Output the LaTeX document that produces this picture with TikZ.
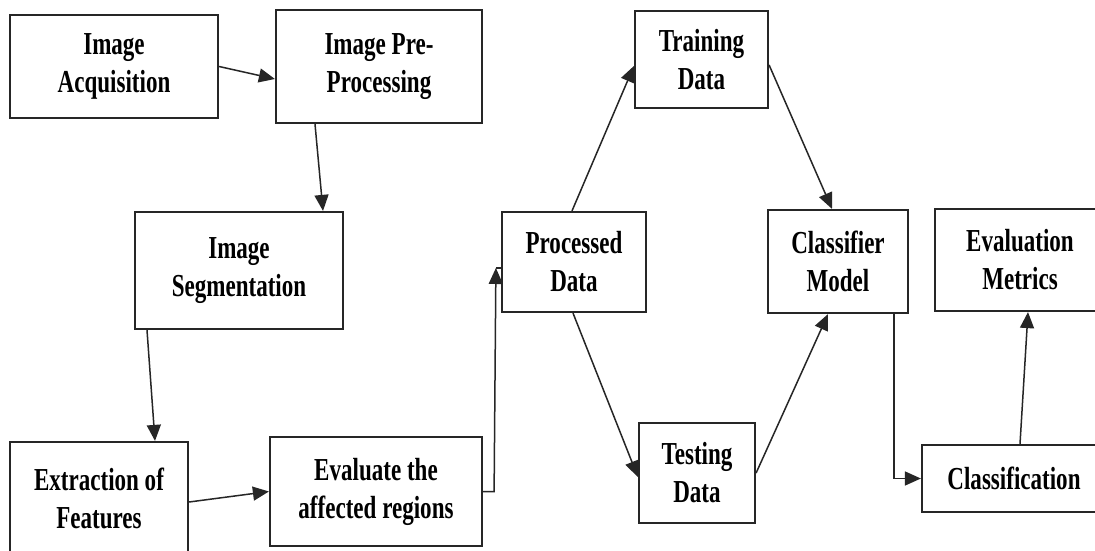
\documentclass[tikz,border=0pt]{standalone}
\usepackage{fontspec}
\setmainfont[FakeStretch=0.72]{Liberation Serif}
\usepackage{tikz}
\usetikzlibrary{arrows.meta,calc}

\tikzset{
  blk/.style={draw=black!85, line width=2.2pt, fill=white, align=center, inner sep=0pt,
    font=\fontsize{32}{38}\selectfont\bfseries},
  arr/.style={line width=1.5pt, draw=black!85, -{Triangle[length=16pt,width=14pt]}},
  lnk/.style={line width=1.5pt, draw=black!85}
}

\begin{document}
\begin{tikzpicture}[x=1pt,y=1pt]
\useasboundingbox (0,0) rectangle (1095,550);
\clip (0,0) rectangle (1095,550);
\fill[white] (0,0) rectangle (1095,550);
% image side
\node[blk, minimum width=208pt, minimum height=103pt] (acq) at (114,483.5) {Image\\Acquisition};
\node[blk, minimum width=206pt, minimum height=113pt] (pre) at (379,483.5) {Image Pre-\\Processing};
\node[blk, minimum width=208pt, minimum height=117pt] (seg) at (239,279.5) {Image\\Segmentation};
\node[blk, minimum width=178pt, minimum height=113pt] (ext) at (99,51.5) {Extraction of\\Features};
\node[blk, minimum width=212pt, minimum height=109pt] (eval) at (376,58.5) {Evaluate the\\affected regions};
% data side
\node[blk, minimum width=144pt, minimum height=100pt] (proc) at (574,288) {Processed\\Data};
\node[blk, minimum width=133pt, minimum height=97pt] (train) at (701.5,490.5) {Training\\Data};
\node[blk, minimum width=116pt, minimum height=100pt] (test) at (697,77) {Testing\\Data};
\node[blk, minimum width=140pt, minimum height=103pt] (model) at (838,288.5) {Classifier\\Model};
\node[blk, minimum width=170pt, minimum height=102pt] (metr) at (1020,290) {Evaluation\\Metrics};
\node[blk, minimum width=184pt, minimum height=67pt] (clsf) at (1014,71.5) {Classification};
% connectors
\draw[arr] (acq.east) -- ([yshift=-12.5pt]pre.west);
\draw[arr] ([xshift=-64pt]pre.south) -- ([xshift=84pt]seg.north);
\draw[arr] ([xshift=-92pt]seg.south) -- ([xshift=56pt]ext.north);
\draw[arr] ([yshift=-3.5pt]ext.east) -- (eval.west);
\coordinate (pin) at ([xshift=-5pt,yshift=-6pt]proc.west);
\draw[arr] (eval.east) -- ++(11,0) -- (pin);
\draw[lnk] (pin) -- ([yshift=-6pt]proc.west);
\draw[arr] ([xshift=-2pt]proc.north) -- ([yshift=-6.5pt]train.west);
\draw[arr] ([yshift=-5.5pt]train.east) -- ([xshift=-6pt]model.north);
\draw[arr] ([xshift=-1pt]proc.south) -- ([yshift=-4pt]test.west);
\draw[arr] (test.east) -- ([xshift=-10pt]model.south);
\draw[arr] ([xshift=56pt]model.south) |- (clsf.west);
\draw[arr] ([xshift=6pt]clsf.north) -- ([xshift=8pt]metr.south);
\end{tikzpicture}
\end{document}
